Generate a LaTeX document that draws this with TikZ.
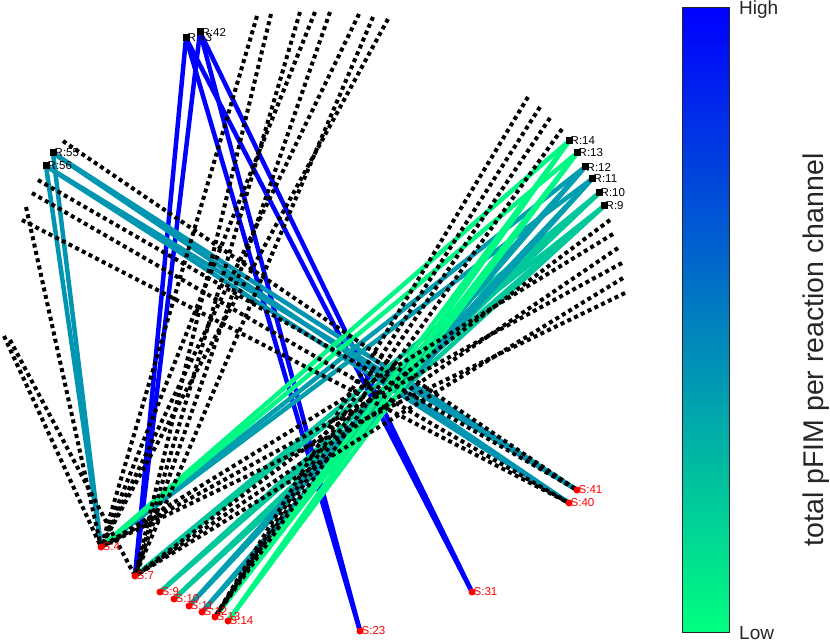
\documentclass[tikz,border=0pt]{standalone}
\usepackage{fontspec}
\setmainfont{Liberation Sans}
\pgfdeclarelayer{bg}
\pgfsetlayers{bg,main}
\definecolor{cblue}{RGB}{0,0,255}
\definecolor{cteal}{RGB}{0,150,178}
\definecolor{cmid}{RGB}{0,158,175}
\definecolor{cgrn}{RGB}{0,200,155}
\definecolor{cbright}{RGB}{0,248,132}
\definecolor{clow}{RGB}{0,255,128}
\definecolor{ctext}{RGB}{38,38,38}
\begin{document}
\begin{tikzpicture}[x=1pt,y=-1pt,
  spec/.style={circle,fill=red,inner sep=0pt,minimum size=7pt},
  reac/.style={rectangle,fill=black,inner sep=0pt,minimum size=7pt},
  slab/.style={anchor=west,text=red,inner sep=0pt,xshift=1.5pt,font=\fontsize{11.5}{11.5}\selectfont},
  rlab/.style={anchor=west,text=black,inner sep=0pt,xshift=1.5pt,font=\fontsize{11.5}{11.5}\selectfont},
  fe/.style={line width=4.5pt},
  dotline/.style={line width=4pt,black,dash pattern=on 4pt off 3.5pt},
  ]
\useasboundingbox (0,0) rectangle (830,644);

% species
\foreach \n/\x/\y in {4/101/547,7/135/576,9/160/592,10/174/599,11/189/606,12/202/612,13/215/617,14/228/621,23/360/631,31/472/592,40/569/503,41/577/490}{
  \node[spec] (s\n) at (\x,\y) {};
  \node[slab] (ls\n) at (s\n.center) {S:\n};
}
% reactions
\foreach \n/\x/\y in {42/200/32,43/186/38,55/53/153,56/46/166,14/569/141,13/577/153,12/585/167,11/592/179,10/599/193,9/604/206}{
  \node[reac] (r\n) at (\x,\y) {};
  \node[rlab] (lr\n) at (r\n.center) {R:\n};
}
% free ends of dotted connectors
\foreach \n/\x/\y in {t1/257/16,t2/271/14,t3/300/12,t4/315/12,t5/330/12,t6/359/14,t7/373/17,t8/388/19,
  u1/528/97,u2/540/107,u3/550/118,u4/562/129,
  w1/610/220,w2/613/234,w3/618/248,w4/622/263,w5/623/278,w6/625/293,
  l1/63/141,l2/38/180,l3/32/193,l4/26/207,l5/22/220,l6/4/336,l7/10/340}{
  \coordinate (\n) at (\x,\y);
}

\begin{pgfonlayer}{bg}
\foreach \a/\b in {r43/s7,r42/s7,r43/s23,r42/s23,r43/s31,r42/s31}
  \draw[fe,cblue] (\a.center) -- (\b.center);
\foreach \a/\b in {r55/s4,r56/s4,r55/s40,r55/s41,r56/s40,r56/s41}
  \draw[fe,cteal] (\a.center) -- (\b.center);
\foreach \a/\b in {r9/s7,r9/s9,r9/s10,r10/s7,r10/s9,r10/s10}
  \draw[fe,cgrn] (\a.center) -- (\b.center);
\foreach \a/\b in {r11/s4,r11/s11,r11/s12,r12/s4,r12/s11,r12/s12}
  \draw[fe,cmid] (\a.center) -- (\b.center);
\foreach \a/\b in {r13/s4,r13/s13,r13/s14,r14/s4,r14/s13,r14/s14}
  \draw[fe,cbright] (\a.center) -- (\b.center);
\foreach \a/\b in {t1/s4,t2/s7,t3/s7,t4/s4,t5/s7,t6/s4,t7/s7,t8/s4,
  u1/s13,u2/s13,u3/s13,u4/s13,
  w1/s7,w2/s4,w3/s7,w4/s4,w5/s7,w6/s4,
  l1/s41,l2/s41,l3/s40,l4/s4,l5/s40,l6/s4,l7/s7}
  \draw[dotline] (\a) -- (\b.center);
\end{pgfonlayer}

% colour bar
\node[draw=ctext,line width=1pt,top color=cblue,bottom color=clow,minimum width=47pt,minimum height=624pt,inner sep=0pt] (cbar) at (705.5,320) {};
\node[anchor=west,text=ctext,inner sep=0pt,font=\fontsize{19}{19}\selectfont] (hi) at (739,10) {High};
\node[anchor=west,text=ctext,inner sep=0pt,font=\fontsize{19}{19}\selectfont] (lo) at (739,633) {Low};
\node[rotate=90,text=ctext,inner sep=0pt,font=\fontsize{28.5}{28.5}\selectfont] (ttl) at (816,350) {total pFIM per reaction channel};
\end{tikzpicture}
\end{document}
